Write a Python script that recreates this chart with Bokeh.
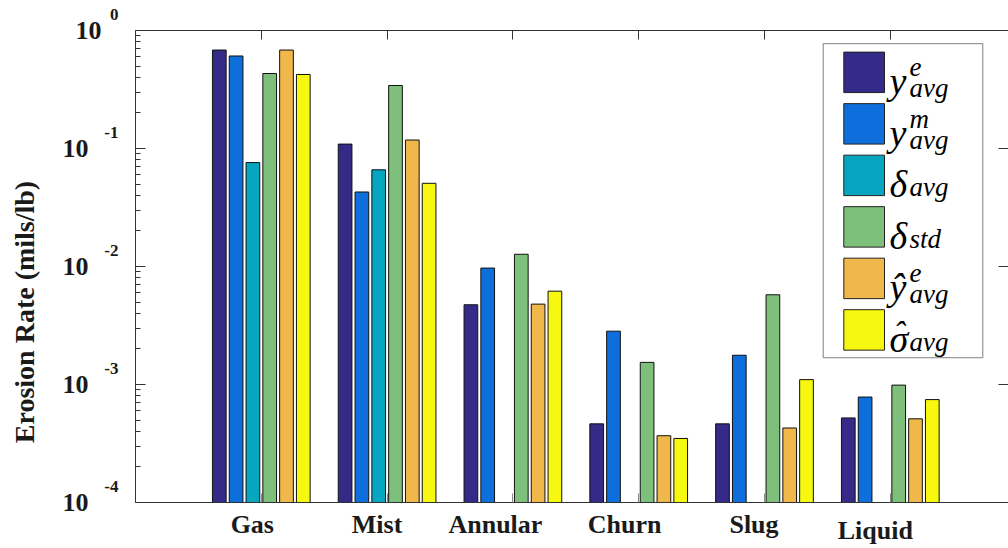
import math
from bokeh.plotting import figure
from bokeh.models import (Range1d, FixedTicker, LogAxis, LinearAxis, Label,
                          BoxAnnotation, CustomJSTickFormatter)
from bokeh.embed import file_html
from bokeh.resources import INLINE

# ---------------- data ----------------
categories = ["Gas", "Mist", "Annular", "Churn", "Slug", "Liquid"]
NAN = float("nan")
y_e_avg = [0.683, 0.109, 0.00474, 0.000464, 0.000464, 0.000521]
y_m_avg = [0.608, 0.0428, 0.0097, 0.00283, 0.00177, 0.000783]
delta_avg = [0.076, 0.066, NAN, NAN, NAN, NAN]
delta_std = [0.432, 0.342, 0.0127, 0.00154, 0.00576, 0.000988]
yhat_e_avg = [0.683, 0.118, 0.0048, 0.000368, 0.000428, 0.000512]
sigmahat_avg = [0.424, 0.0507, 0.00618, 0.000349, 0.0011, 0.000745]
y_ticks = [1e-4, 1e-3, 1e-2, 1e-1, 1.0]
y_label = "Erosion Rate (mils/lb)"
legend_main = ["y", "y", "δ", "δ", "ŷ", "σ"]
legend_hat = ["", "", "", "", "", "ˆ"]
legend_sup = ["e", "m", "", "", "e", ""]
legend_sub = ["avg", "avg", "avg", "std", "avg", "avg"]

series = [y_e_avg, y_m_avg, delta_avg, delta_std, yhat_e_avg, sigmahat_avg]
colors = ["#352a87", "#0e6fdc", "#06a6c1", "#7dbf7b", "#f0b74b", "#f6f80f"]

# ---------------- layout ----------------
W, H = 1008, 548
FL, FT, FB, FR = 135, 30, 506, 1008          # frame edges in pixels
PX_PER_CAT = 125.8
X0 = 0.0
X1 = X0 + (FR - FL) / PX_PER_CAT
Y0, Y1 = 1e-4, 1.0
BAR_STEP = 16.8 / PX_PER_CAT
BAR_W = 13.7 / PX_PER_CAT
SERIF = "Liberation Serif"
AX = "#333333"
NB = "\u00a0"


def px2x(px):
    return X0 + (px - FL) / (FR - FL) * (X1 - X0)


def py2y(py):
    ly0, ly1 = math.log10(Y0), math.log10(Y1)
    return 10 ** (ly1 - (py - FT) / (FB - FT) * (ly1 - ly0))


p = figure(width=W, height=H, y_axis_type="log",
           x_range=Range1d(X0, X1), y_range=Range1d(Y0, Y1),
           output_backend="svg", toolbar_location=None,
           min_border_left=FL, min_border_right=W - FR,
           min_border_top=FT, min_border_bottom=H - FB)
p.xgrid.visible = False
p.ygrid.visible = False
p.outline_line_color = None
p.background_fill_color = "white"
p.border_fill_color = "white"

minor = [m * t for t in y_ticks[:-1] for m in range(2, 10)]
cat_x = [i + 1 for i in range(len(categories))]


def blank():
    return CustomJSTickFormatter(code="return ''")


def listed(labels):
    return CustomJSTickFormatter(args=dict(labels=labels), code="return labels[index]")


def no_lines(ax):
    ax.axis_line_color = None
    ax.major_tick_line_color = None
    ax.minor_tick_line_color = None
    ax.major_tick_in = 0
    ax.major_tick_out = 0
    ax.minor_tick_in = 0
    ax.minor_tick_out = 0


# left: tick axis (nearest to frame)
ya = p.yaxis[0]
ya.ticker = FixedTicker(ticks=y_ticks, minor_ticks=minor)
ya.formatter = blank()
ya.major_tick_in, ya.major_tick_out = 10, 0
ya.minor_tick_in, ya.minor_tick_out = 5, 0
ya.major_label_standoff = 0
ya.major_label_text_font_size = "0px"
ya.axis_line_color = AX
ya.major_tick_line_color = AX
ya.minor_tick_line_color = AX

# left: exponent labels (raised by a blank second line)
exps = [str(int(round(math.log10(t)))) for t in y_ticks]
ea = LogAxis(ticker=FixedTicker(ticks=y_ticks, minor_ticks=[]),
             formatter=listed([e + "\n" + NB for e in exps]),
             major_label_standoff=17, major_label_text_font=SERIF,
             major_label_text_font_size="17px", major_label_text_font_style="bold",
             major_label_text_color="#1a1a1a", major_label_text_line_height=1.65)
no_lines(ea)
p.add_layout(ea, "left")

# left: "10" mantissa labels (narrow exponents pull the "10" to the right) + title
mantissas = ["10" + NB * (2 if len(e) > 1 else 0) for e in exps]
ma = LogAxis(ticker=FixedTicker(ticks=y_ticks, minor_ticks=[]),
             formatter=listed(mantissas),
             major_label_standoff=0, major_label_text_font=SERIF,
             major_label_text_font_size="26px", major_label_text_font_style="bold",
             major_label_text_color="#1a1a1a",
             axis_label=y_label + NB * 13, axis_label_standoff=20,
             axis_label_text_font=SERIF, axis_label_text_font_size="28px",
             axis_label_text_font_style="bold", axis_label_text_color="#1a1a1a")
no_lines(ma)
p.add_layout(ma, "left")

# bottom: tick axis
xa = p.xaxis[0]
xa.ticker = FixedTicker(ticks=cat_x, minor_ticks=[])
xa.formatter = blank()
xa.major_tick_in, xa.major_tick_out = 9, 0
xa.minor_tick_line_color = None
xa.major_label_standoff = 0
xa.major_label_text_font_size = "0px"
xa.axis_line_color = AX
xa.major_tick_line_color = "#888888"

# bottom: category names (placed as in the reference, slightly left of the ticks)
label_dx = [-9, -10, -17.5, -14, -10.5, -15]
cat_names = [n if n != "Liquid" else NB + "\n" + n for n in categories]
ca = LinearAxis(ticker=FixedTicker(ticks=[c + d / PX_PER_CAT for c, d in zip(cat_x, label_dx)],
                                   minor_ticks=[]),
                formatter=listed(cat_names), major_label_standoff=7,
                major_label_text_font=SERIF, major_label_text_font_size="26px",
                major_label_text_font_style="bold", major_label_text_color="#1a1a1a",
                major_label_text_line_height=0.23)
no_lines(ca)
p.add_layout(ca, "below")

# top axis
ta = LinearAxis(ticker=FixedTicker(ticks=cat_x, minor_ticks=[]), formatter=blank(),
                major_tick_in=9, major_tick_out=0, minor_tick_line_color=None,
                major_label_standoff=0, major_label_text_font_size="0px",
                axis_line_color=AX, major_tick_line_color=AX)
p.add_layout(ta, "above")

# right axis (its spine lies just outside the picture in the reference)
ra = LogAxis(ticker=FixedTicker(ticks=y_ticks, minor_ticks=[]), formatter=blank(),
             major_tick_in=10, major_tick_out=0, minor_tick_line_color=None,
             major_label_standoff=0, major_label_text_font_size="0px",
             axis_line_color=None, major_tick_line_color=AX)
p.add_layout(ra, "right")

# bars
n = len(series)
for i, (vals, col) in enumerate(zip(series, colors)):
    xs = [c + (i - (n - 1) / 2) * BAR_STEP for c in cat_x]
    p.vbar(x=xs, top=vals, bottom=Y0, width=BAR_W, fill_color=col,
           line_color="#111111", line_width=1)

# legend (drawn by hand so that super/subscripts can be typeset)
p.add_layout(BoxAnnotation(left=px2x(822.7), right=px2x(982.3),
                           top=py2y(43.3), bottom=py2y(360),
                           fill_color="white", fill_alpha=1.0,
                           line_color="#7f7f7f", line_alpha=1.0, line_width=1))
ROW0, ROWSTEP, SW = 72.2, 51.95, 20.4


def lab(px, py, text, size):
    p.add_layout(Label(x=px2x(px), y=py2y(py), text=text, text_align="left",
                       text_baseline="alphabetic", text_font=SERIF,
                       text_font_size=size, text_font_style="italic",
                       text_color="black"))


for k, col in enumerate(colors):
    cy = ROW0 + k * ROWSTEP
    p.add_layout(BoxAnnotation(left=px2x(843.3), right=px2x(884),
                               top=py2y(cy - SW), bottom=py2y(cy + SW),
                               fill_color=col, fill_alpha=1.0,
                               line_color="#222222", line_alpha=1.0, line_width=1))
    lab(889, cy + 9, legend_main[k], "38px")
    if legend_hat[k]:
        lab(893, cy + 4, legend_hat[k], "34px")
    if legend_sup[k]:
        lab(909, cy - 5, legend_sup[k], "27px")
    lab(909, cy + (16 if legend_sup[k] else 12), legend_sub[k], "27px")

open("out.html", "w").write(file_html(p, INLINE))
